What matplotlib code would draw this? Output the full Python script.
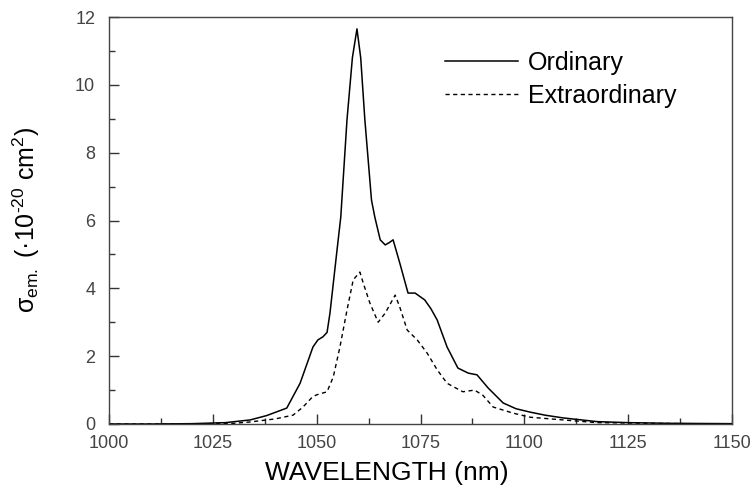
import matplotlib
matplotlib.use("Agg")
import matplotlib.pyplot as plt

plt.rcParams["font.family"] = ["Liberation Sans", "DejaVu Sans"]
plt.rcParams["mathtext.fontset"] = "custom"
plt.rcParams["mathtext.rm"] = "Liberation Sans"
plt.rcParams["mathtext.it"] = "Liberation Sans"

# emission cross section (units of 1e-20 cm^2)
wl_ord = [1000, 1010, 1020, 1028, 1034, 1038, 1042.8, 1046, 1049.1, 1050.3, 1051.5,
          1052.5, 1053.2, 1054.9, 1055.8, 1057.3, 1058.6, 1059.7, 1060.6, 1061.6,
          1063.2, 1064.0, 1065.3, 1066.5, 1067.5, 1068.4, 1070.0, 1072.0, 1073.7,
          1076.0, 1077.5, 1079.0, 1081.4, 1084.0, 1086.5, 1088.6, 1091.3, 1094.9,
          1098.0, 1101.4, 1105.0, 1109.3, 1117.5, 1125, 1135, 1150]
sig_ord = [0.0, 0.0, 0.01, 0.04, 0.12, 0.25, 0.47, 1.2, 2.27, 2.48, 2.57,
           2.7, 3.27, 5.13, 6.1, 8.97, 10.8, 11.65, 10.8, 8.97,
           6.6, 6.1, 5.43, 5.28, 5.35, 5.43, 4.75, 3.86, 3.86,
           3.66, 3.4, 3.07, 2.27, 1.65, 1.5, 1.45, 1.06, 0.62,
           0.45, 0.35, 0.26, 0.18, 0.07, 0.04, 0.02, 0.01]

wl_ext = [1000, 1010, 1020, 1030, 1034, 1040, 1044.3, 1046.7, 1049.0, 1050.0, 1052.5,
          1054.0, 1055.6, 1057.3, 1058.8, 1060.4, 1061.2, 1062.8, 1064.8, 1066.5,
          1068.9, 1070.0, 1071.8, 1074.2, 1076.6, 1079.0, 1081.4, 1085.2, 1088.0,
          1090.0, 1092.5, 1097.3, 1101.4, 1109.3, 1117.5, 1130, 1150]
sig_ext = [0.0, 0.0, 0.0, 0.02, 0.06, 0.15, 0.26, 0.5, 0.8, 0.86, 0.95,
           1.39, 2.27, 3.36, 4.25, 4.48, 4.16, 3.57, 3.0, 3.27,
           3.8, 3.45, 2.77, 2.48, 2.09, 1.6, 1.2, 0.95, 1.0,
           0.85, 0.5, 0.32, 0.2, 0.12, 0.04, 0.02, 0.0]

x_ticks = [1000, 1025, 1050, 1075, 1100, 1125, 1150]
y_ticks = [0, 2, 4, 6, 8, 10, 12]

fig = plt.figure(figsize=(7.54, 4.90), dpi=100)
ax = fig.add_axes([0.1446, 0.1347, 0.8262, 0.8306])

ax.plot(wl_ord, sig_ord, color="black", linewidth=1.1, label="Ordinary")
ax.plot(wl_ext, sig_ext, color="black", linewidth=1.0, linestyle=(0, (3, 2.5)),
        label="Extraordinary")

ax.set_xlim(1000, 1150)
ax.set_ylim(0, 12)
ax.set_xticks(x_ticks)
ax.set_yticks(y_ticks)
ax.set_xticks([1012.5, 1037.5, 1062.5, 1087.5, 1112.5, 1137.5], minor=True)
ax.set_yticks([1, 3, 5, 7, 9, 11], minor=True)
ax.tick_params(which="both", direction="in", top=False, right=False,
               colors="#333333", labelsize=13, labelcolor="#444444")
ax.tick_params(which="major", length=7, width=1)
ax.tick_params(which="minor", length=4, width=1)
ax.tick_params(axis="x", pad=8)
ax.tick_params(axis="y", pad=10)
for side in ax.spines.values():
    side.set_color("#444444")
    side.set_linewidth(1.0)

# the x title sits a bit left of the axes centre in the original
ax.set_xlabel("WAVELENGTH (nm)", fontsize=19)
ax.xaxis.set_label_coords(0.446, -0.092)
ax.set_ylabel("σ$_{\\rm em.}$ (·10$^{\\text{-20}}$ cm$^{2}$)", fontsize=18, labelpad=24)

ax.legend(loc="upper left", bbox_to_anchor=(0.504, 0.972), frameon=False,
          fontsize=18, handlelength=2.9, handletextpad=0.4, labelspacing=0.35)

fig.savefig("out.png", dpi=100)
